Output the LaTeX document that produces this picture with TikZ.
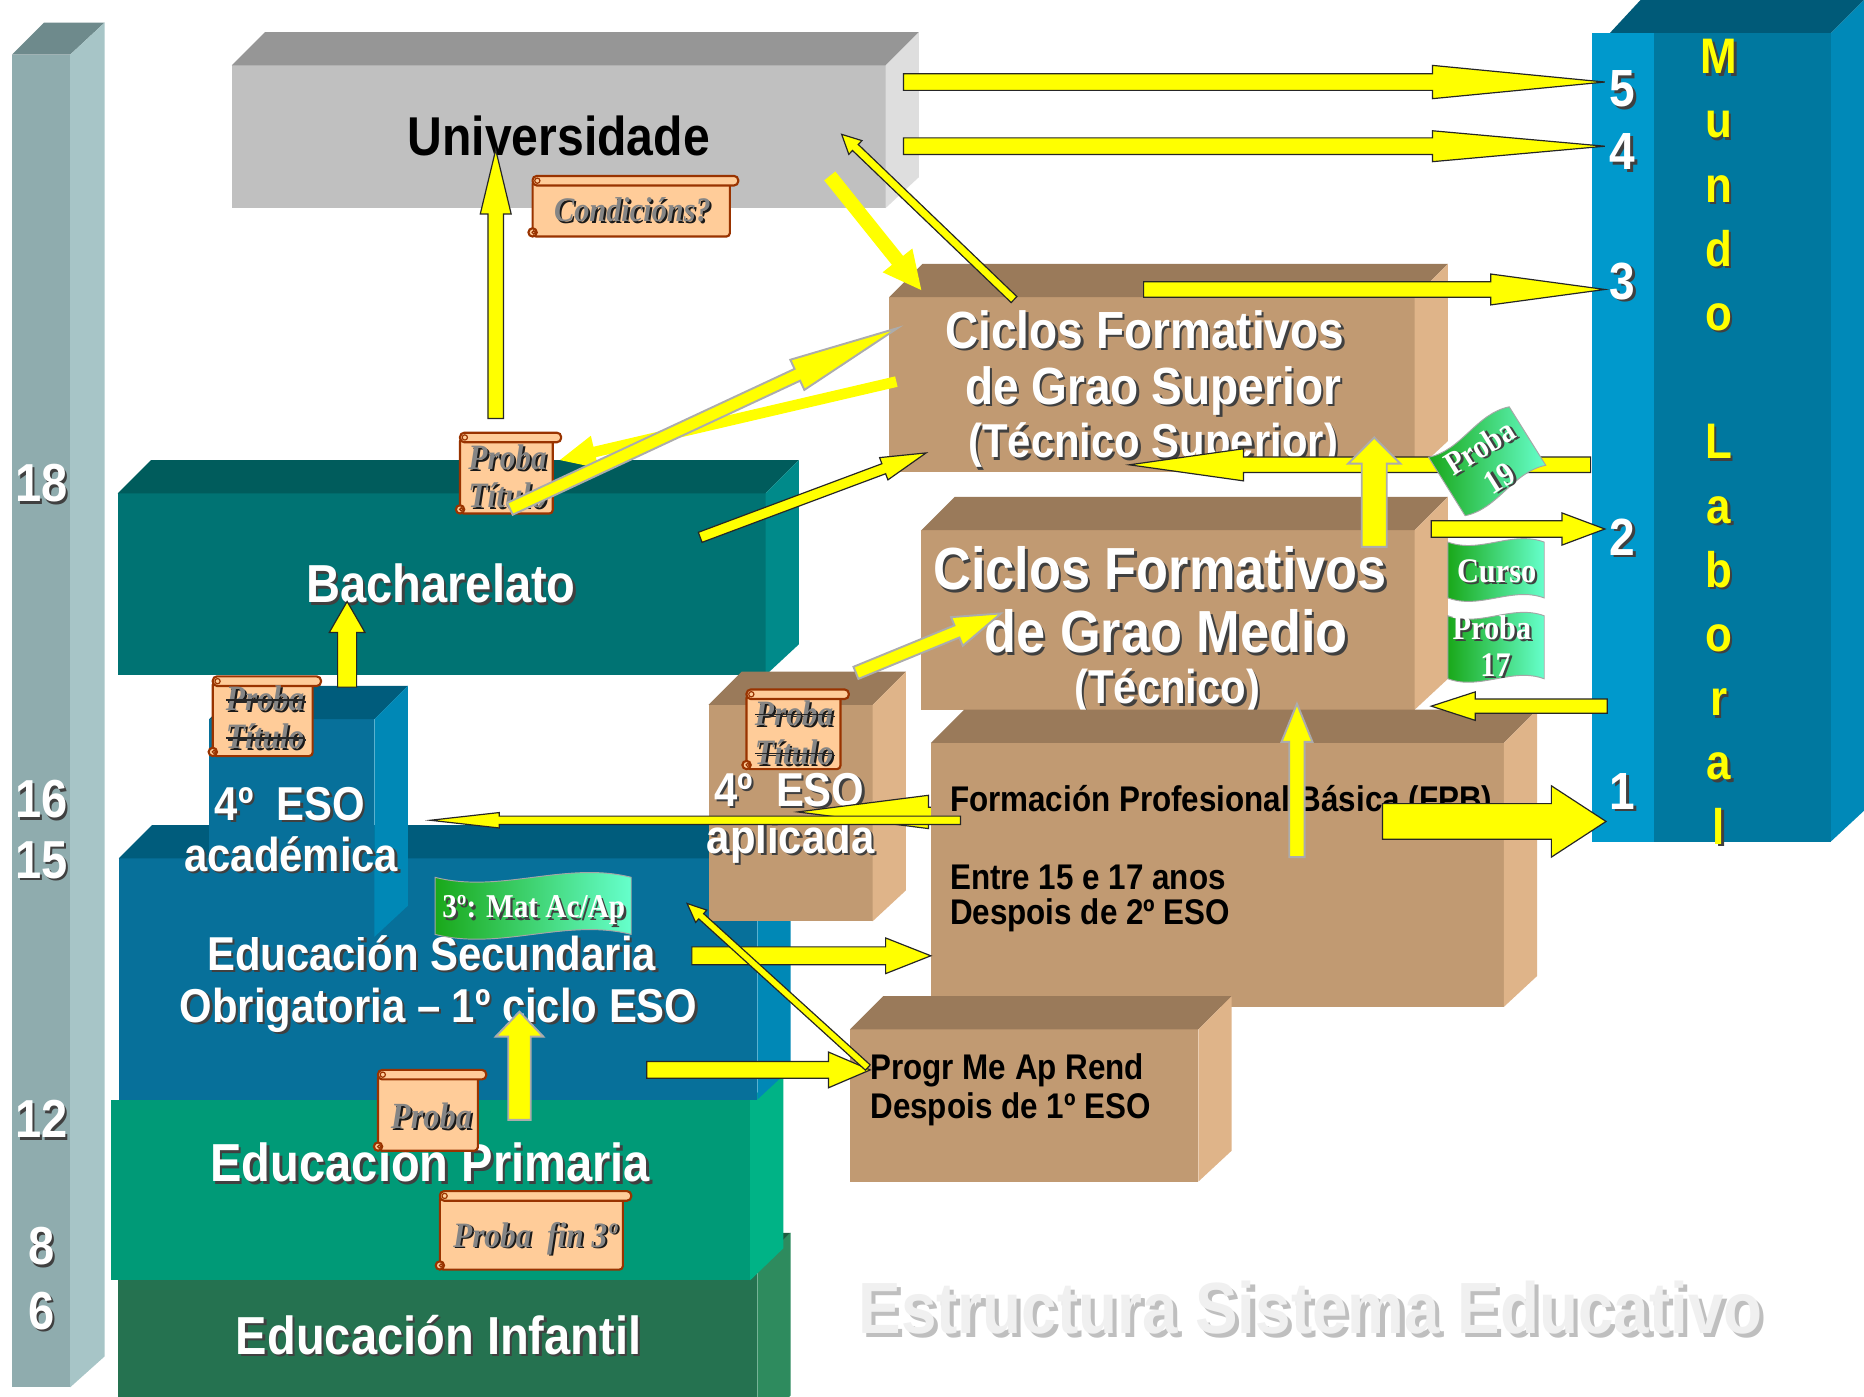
\documentclass[tikz,border=0pt]{standalone}
\usepackage{fontspec}
\setmainfont{Liberation Sans}[FakeStretch=0.88]
\newfontfamily\serifr{Liberation Serif}[FakeStretch=0.88]
\usetikzlibrary{calc}
\definecolor{ylw}{HTML}{FFFF00}
\definecolor{barF}{HTML}{8FACAE}\definecolor{barT}{HTML}{6E8A8C}\definecolor{barS}{HTML}{A7C5C7}
\definecolor{uniF}{HTML}{C0C0C0}\definecolor{uniT}{HTML}{969696}\definecolor{uniS}{HTML}{DEDEDE}
\definecolor{bacF}{HTML}{007373}\definecolor{bacT}{HTML}{005C5C}\definecolor{bacS}{HTML}{008A8A}
\definecolor{tanF}{HTML}{C19A72}\definecolor{tanT}{HTML}{9A7A5A}\definecolor{tanS}{HTML}{DFB489}
\definecolor{esoF}{HTML}{07709A}\definecolor{esoT}{HTML}{005C7C}\definecolor{esoS}{HTML}{0088B6}
\definecolor{priF}{HTML}{009A77}\definecolor{priS}{HTML}{00B386}
\definecolor{infF}{HTML}{257250}\definecolor{infT}{HTML}{1D5C40}\definecolor{infS}{HTML}{2E8B5E}
\definecolor{munL}{HTML}{0099CC}\definecolor{munF}{HTML}{00789F}\definecolor{munT}{HTML}{005A78}\definecolor{munS}{HTML}{0089B8}
\definecolor{peach}{HTML}{FFCC99}\definecolor{brn}{HTML}{993300}
\definecolor{fgA}{HTML}{1AA81A}\definecolor{fgB}{HTML}{66FFCC}
\newcommand\fsz[1]{\fontsize{#1}{#1}\selectfont}
\def\shdoff{2pt}
\newcommand\shd[2][black!75]{\makebox[0pt][l]{\kern\shdoff\raisebox{-\shdoff}{\textcolor{#1}{#2}}}#2}
\newcommand\strk[1]{\sbox0{#1}\usebox0\kern-\wd0\textcolor{black!85}{\rule[0.28em]{\wd0}{1.3pt}}}
% cube: x1 y1 x2 y2 front top side
\newcommand\cube[7]{%
  \fill[#5] (#1,#2) rectangle (#3,#4);
  \fill[#6] (#1,#2) -- ({#1+28},{#2-28}) -- ({#3+28},{#2-28}) -- (#3,#2) -- cycle;
  \fill[#7] (#3,#2) -- ({#3+28},{#2-28}) -- ({#3+28},{#4-26}) -- (#3,#4) -- cycle;}
% block arrow: [style] start end shaft-hw head-hw head-len
\newcommand\barrow[6][arr]{%
  \coordinate (bA) at (#2); \coordinate (bE) at (#3);
  \coordinate (bB) at ($(bE)!#6pt!(bA)$);
  \path[#1] ($(bA)!#4pt!90:(bE)$) -- ($(bB)!#4pt!-90:(bA)$) -- ($(bB)!#5pt!-90:(bA)$) -- (bE)
     -- ($(bB)!#5pt!90:(bA)$) -- ($(bB)!#4pt!90:(bA)$) -- ($(bA)!#4pt!-90:(bE)$) -- cycle;}
% scroll: x1 y1 x2 y2
\newcommand\scroll[4]{%
  \path[scr, rounded corners=3pt] (#1,{#2+4}) -- ({#3-7},{#2+4}) -- ({#3-7},#4) -- (#1,#4) -- cycle;
  \path[scr, rounded corners=3.5pt] (#1,#2) rectangle (#3,{#2+8});
  \draw[scrl] ({#1+4},{#2+4}) circle (2.2pt);
  \path[scr] (#1,{#4-3.5}) circle (3.5pt);
  \draw[scrl] ({#1+1},{#4-3.5}) circle (1.4pt);}
% flag: x1 y1 x2 y2 amplitude
\newcommand\flag[5]{%
  \path[flg] (#1,#2) .. controls ({#1+(#3-#1)/3},{#2+#5}) and ({#1+2*(#3-#1)/3},{#2-#5}) .. (#3,#2)
    -- (#3,#4) .. controls ({#1+2*(#3-#1)/3},{#4-#5}) and ({#1+(#3-#1)/3},{#4+#5}) .. (#1,#4) -- cycle;}
\begin{document}
\begin{tikzpicture}[x=1pt,y=-1pt,
  lb/.style={inner sep=0pt, anchor=base},
  wh/.style={lb, text=white},
  bl/.style={inner sep=0pt, anchor=base west, text=black, font=\bfseries\fsz{30}},
  sct/.style={lb, text=black!48, font=\serifr\bfseries\itshape\fsz{30}},
  flt/.style={lb, text=white, font=\serifr\bfseries\fsz{29}},
  arr/.style={fill=ylw, draw=black!85, line width=1pt, line join=miter},
  arrg/.style={fill=ylw, draw=gray!65, line width=1.6pt, line join=miter},
  arrn/.style={fill=ylw, draw=none},
  scr/.style={fill=peach, draw=brn, line width=1.8pt},
  scrl/.style={draw=brn, line width=1pt},
  flg/.style={left color=fgA, right color=fgB, draw=gray!70, line width=0.8pt},
]
\useasboundingbox (0,0) rectangle (1568,1175);
\fill[white] (0,0) rectangle (1568,1175);

% ---- age bar
\fill[barF] (10,46) rectangle (59,1167);
\fill[barT] (10,46) -- (37,19) -- (88,19) -- (59,46) -- cycle;
\fill[barS] (59,46) -- (88,19) -- (88,1141) -- (59,1167) -- cycle;
\foreach \t/\yy [count=\i] in {18/422,16/688,15/739,12/957,8/1064,6/1118}
  \node[wh, font=\bfseries\fsz{45}] (age\i) at (35,\yy) {\shd{\t}};

% ---- Universidade
\cube{195}{55}{745}{175}{uniF}{uniT}{uniS}
\node[lb, font=\bfseries\fsz{46}] (tUniv) at (470,131) {Universidade};

% ---- Ciclos superior
\cube{748}{250}{1190}{397}{tanF}{tanT}{tanS}
\node[wh, font=\bfseries\fsz{44}] (tSup1) at (963,293) {\shd{Ciclos Formativos}};
\node[wh, font=\bfseries\fsz{44}] (tSup2) at (970,340) {\shd{de Grao Superior}};
\node[wh, font=\bfseries\fsz{40}] (tSup3) at (970,385) {\shd{(Técnico Superior)}};

% ---- Ciclos medio
\cube{775}{446}{1190}{597}{tanF}{tanT}{tanS}
\node[wh, font=\bfseries\fsz{50}] (tMed1) at (976,496) {\shd{Ciclos Formativos}};
\node[wh, font=\bfseries\fsz{50}] (tMed2) at (981,549) {\shd{de Grao Medio}};
\node[wh, font=\bfseries\fsz{40}] (tMed3) at (982,592) {\shd{(Técnico)}};

% ---- Mundo Laboral
\fill[munT] (1354,28) -- (1380,0) -- (1568,0) -- (1540,28) -- cycle;
\fill[munS] (1540,28) -- (1568,0) -- (1568,682) -- (1540,708) -- cycle;
\fill[munF] (1391,28) rectangle (1540,708);
\fill[munL] (1339,28) rectangle (1391,708);
\foreach \l/\yy [count=\i] in {M/62,u/116,n/170,d/224,o/278,L/386,a/440,b/494,o/548,r/602,a/656,l/710}
  \node[lb, text=ylw, font=\bfseries\fsz{42}] (ml\i) at (1446,\yy) {\shd{\l}};

% ---- Bacharelato
\cube{99}{415}{644}{568}{bacF}{bacT}{bacS}
\node[wh, font=\bfseries\fsz{45}] (tBach) at (371,507) {\shd{Bacharelato}};

% ---- Infantil, Primaria, ESO
\cube{99}{1065}{637}{1200}{infF}{infT}{infS}
\fill[priF] (93,925) rectangle (631,1077);
\fill[priS] (631,925) -- (659,898) -- (659,1050) -- (631,1077) -- cycle;
\cube{100}{722}{637}{925}{esoF}{esoT}{esoS}
\node[wh, font=\bfseries\fsz{45}] (tInf) at (369,1139) {\shd{Educación Infantil}};
\node[wh, font=\bfseries\fsz{45}] (tPrim) at (362,994) {\shd{Educación Primaria}};
\node[wh, font=\bfseries\fsz{40}] (tESO1) at (363,816) {\shd{Educación Secundaria}};
\node[wh, font=\bfseries\fsz{40}] (tESO2) at (369,860) {\shd{Obrigatoria – 1º ciclo ESO}};

% ---- 4º ESO académica / aplicada
\cube{176}{605}{315}{788}{esoF}{esoT}{esoS}
\node[wh, font=\bfseries\fsz{40}] (tAc1) at (244,690) {\shd{4º~~ESO}};
\node[wh, font=\bfseries\fsz{40}] (tAc2) at (245,733) {\shd{académica}};
\cube{596}{593}{734}{775}{tanF}{tanT}{tanS}
\node[wh, font=\bfseries\fsz{40}] (tAp1) at (664,678) {\shd{4º~~ESO}};
\node[wh, font=\bfseries\fsz{40}] (tAp2) at (665,718) {\shd{aplicada}};

% big-head arrow to aplicada (behind FPB box)
\barrow[arr]{830,683}{671,683}{4}{14}{110}

% ---- FPB and PMAR boxes
\cube{783}{625}{1265}{847}{tanF}{tanT}{tanS}
\node[bl] (tFPB1) at (799,683) {Formación Profesional Básica (FPB)};
\node[bl] (tFPB2) at (799,748) {Entre 15 e 17 anos};
\node[bl] (tFPB3) at (799,778) {Despois de 2º ESO};
\cube{715}{866}{1008}{994}{tanF}{tanT}{tanS}
\node[bl] (tPM1) at (732,908) {Progr Me Ap Rend};
\node[bl] (tPM2) at (732,941) {Despois de 1º ESO};

% ---- scrolls
\scroll{448}{148}{621}{199}
\node[sct, font=\serifr\bfseries\itshape\fsz{29}] (sCond) at (532,186) {\def\shdoff{1.6pt}\shd[black!90]{Condicións?}};
\scroll{387}{364}{472}{432}
\node[sct] (sB1) at (427,395) {\def\shdoff{1.6pt}\shd[black!90]{Proba}};
\node[sct] (sB2) at (427,427) {\def\shdoff{1.6pt}\shd[black!90]{Título}};
\scroll{179}{569}{270}{636}
\node[sct] (sA1) at (223,598) {\def\shdoff{1.6pt}\shd[black!90]{\strk{Proba}}};
\node[sct] (sA2) at (223,630) {\def\shdoff{1.6pt}\shd[black!90]{\strk{Título}}};
\scroll{628}{580}{714}{647}
\node[sct] (sP1) at (668,610) {\def\shdoff{1.6pt}\shd[black!90]{\strk{Proba}}};
\node[sct] (sP2) at (668,643) {\def\shdoff{1.6pt}\shd[black!90]{\strk{Título}}};
\scroll{318}{900}{409}{968}
\node[sct, font=\serifr\bfseries\itshape\fsz{31}] (sPr) at (363,949) {\def\shdoff{1.6pt}\shd[black!90]{Proba}};
\scroll{370}{1002}{531}{1068}
\node[sct] (sFin) at (450,1049) {\def\shdoff{1.6pt}\shd[black!90]{Proba~~fin 3º}};

% ---- arrows
\barrow[arr]{760,69}{1350,69}{7}{14}{145}
\barrow[arr]{760,123}{1350,123}{7}{13}{145}
\barrow[arr]{962,243.5}{1350,243.5}{6.5}{13}{96}
\barrow[arr]{1338,391}{950,391}{6.5}{13.5}{96}
\barrow[arrg]{1156,460}{1156,368}{10.5}{22}{22}
\barrow[arr]{1204,445}{1350,445}{7}{13.5}{36}
\barrow[arr]{1352,594}{1204,594}{6}{12}{37}
\barrow[arr]{1163,691}{1351,691}{15}{30}{46}
\barrow[arrg]{1091,721}{1091,592}{6.5}{13}{32}
\barrow[arr]{808,690}{362,690}{3.5}{6.5}{58}
\barrow[arr]{582,804}{783,804}{7.5}{15}{38}
\barrow[arr]{544,900}{732,900}{7}{15}{35}
\barrow[arr]{730,898}{578,760}{3}{7}{16}
\barrow[arr]{853,252}{708,113}{3.5}{8}{16}
\barrow[arrn]{698,148}{775,244}{6}{16}{32}
\barrow[arr]{417,352}{417,126}{6.5}{13}{54}
\barrow[arrn]{754,321}{471,387}{4.5}{14}{30}
\barrow[arrg]{429,428}{755,276}{5.5}{14}{93}
\barrow[arr]{589,452}{779,381}{4.5}{10}{38}
\barrow[arrg]{720,566}{842,516}{5.5}{13}{40}
\barrow[arr]{292,578}{292,506}{8}{15}{26}
\barrow[arrg]{437,942}{437,851}{9.5}{20}{21}

% ---- numbers on Mundo Laboral
\foreach \t/\yy [count=\i] in {5/90,4/143,3/252,2/467,1/681}
  \node[wh, font=\bfseries\fsz{44}] (num\i) at (1365,\yy) {\shd{\t}};

% ---- flags
\flag{366}{738}{531}{786}{14}
\node[flt, font=\serifr\bfseries\fsz{28}] (fMat) at (449,772) {\shd{3º: Mat Ac/Ap}};
\flag{1218}{456}{1299}{503}{10}
\node[flt] (fCur) at (1259,490) {\shd{Curso}};
\flag{1218}{518}{1299}{571}{10}
\node[flt] (fP17a) at (1255,538) {\shd{Proba}};
\node[flt] (fP17b) at (1258,569) {\shd{17}};
\begin{scope}[shift={(1251,388)}, rotate=32]
  \flag{-40}{-29}{40}{29}{10}
\end{scope}
\node[text=white, font=\serifr\bfseries\fsz{28}, inner sep=0pt, rotate=32] (fP19a) at (1245,377) {\shd{Proba}};
\node[text=white, font=\serifr\bfseries\fsz{28}, inner sep=0pt, rotate=32] (fP19b) at (1262,403) {\shd{19}};

% ---- title
\node[inner sep=0pt, anchor=base west, text=white!94!black, font=\bfseries\fsz{61}] (title) at (722,1122)
  {\def\shdoff{3.5pt}\shd[gray!50]{Estructura Sistema Educativo}};
\end{tikzpicture}
\end{document}
